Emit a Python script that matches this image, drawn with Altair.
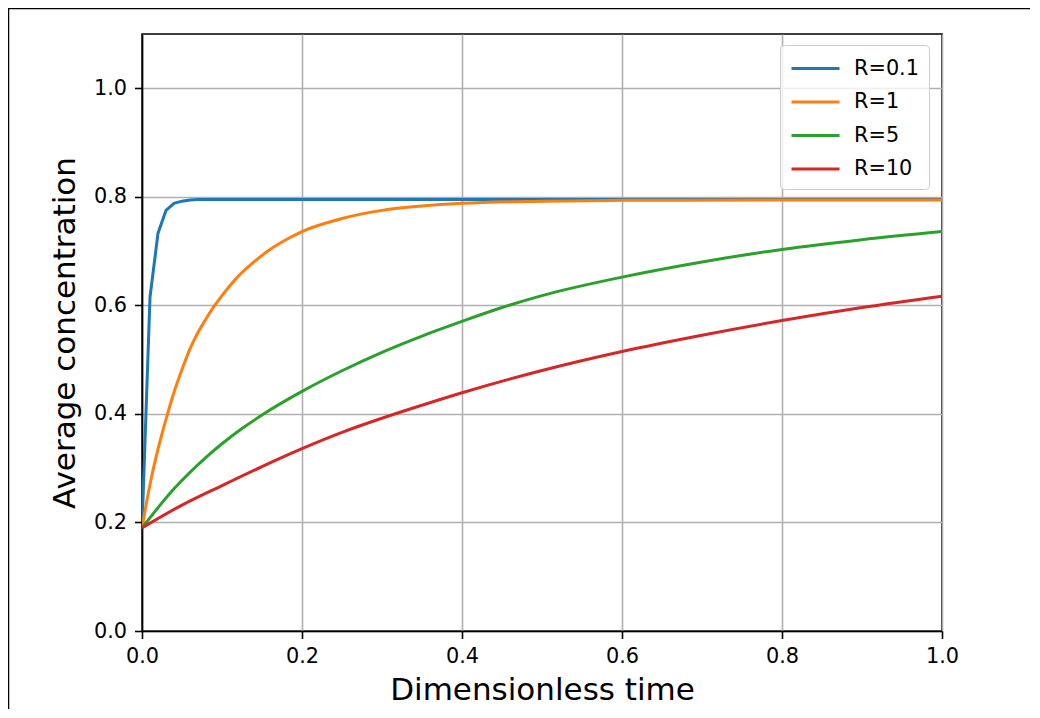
import altair as alt
import pandas as pd

# ---- data ----
series = ["R=0.1", "R=1", "R=5", "R=10"]
colors = ["#1f77b4", "#ff7f0e", "#2ca02c", "#d62728"]

t_r01 = [0, 0.01, 0.02, 0.03, 0.04, 0.05, 0.06, 0.07, 0.08, 0.1, 0.2, 0.4, 0.6, 0.8, 1.0]
c_r01 = [0.19, 0.615, 0.733, 0.775, 0.788, 0.792, 0.794, 0.795, 0.795, 0.795, 0.795, 0.795, 0.795, 0.795, 0.795]

t_r1 = [0, 0.01, 0.02, 0.03, 0.04, 0.05, 0.06, 0.07, 0.08, 0.09, 0.1, 0.12, 0.14, 0.16, 0.18, 0.2,
        0.25, 0.3, 0.35, 0.4, 0.5, 0.6, 0.8, 1.0]
c_r1 = [0.19, 0.27, 0.335, 0.39, 0.44, 0.482, 0.52, 0.55, 0.575, 0.598, 0.618, 0.653, 0.680, 0.703, 0.721, 0.736,
        0.760, 0.775, 0.783, 0.788, 0.792, 0.7935, 0.794, 0.794]

t_r5 = [0, 0.04, 0.08, 0.1, 0.125, 0.15, 0.2, 0.25, 0.3, 0.35, 0.4, 0.45, 0.5, 0.6, 0.7, 0.8, 0.9, 1.0]
c_r5 = [0.19, 0.262, 0.320, 0.345, 0.373, 0.398, 0.4415, 0.4795, 0.5135, 0.5435, 0.5705, 0.596, 0.618, 0.652, 0.680, 0.703, 0.721, 0.736]

t_r10 = [0, 0.05, 0.1, 0.15, 0.2, 0.25, 0.3, 0.35, 0.4, 0.5, 0.6, 0.7, 0.8, 0.9, 1.0]
c_r10 = [0.19, 0.232, 0.268, 0.303, 0.336, 0.366, 0.392, 0.416, 0.439, 0.480, 0.515, 0.545, 0.572, 0.596, 0.617]

x_ticks = [0.0, 0.2, 0.4, 0.6, 0.8, 1.0]
y_ticks = [0.0, 0.2, 0.4, 0.6, 0.8, 1.0]

rows = []
for name, ts, cs in zip(series, [t_r01, t_r1, t_r5, t_r10], [c_r01, c_r1, c_r5, c_r10]):
    for i, (t, c) in enumerate(zip(ts, cs)):
        rows.append({"series": name, "t": t, "c": c, "i": i})
df = pd.DataFrame(rows)

FONT = "DejaVu Sans"

x_enc = alt.X("t:Q", scale=alt.Scale(domain=[0, 1], nice=False, zero=False),
              axis=alt.Axis(values=x_ticks, format=".1f", title="Dimensionless time", labelFlush=False))
y_enc = alt.Y("c:Q", scale=alt.Scale(domain=[0, 1.1], nice=False),
              axis=alt.Axis(values=y_ticks, format=".1f", title="Average concentration", labelFlush=False))
color_enc = alt.Color("series:N", sort=series,
                      scale=alt.Scale(domain=series, range=colors),
                      legend=alt.Legend(title=None, orient="none", legendX=638, legendY=11,
                                        symbolType="M-1,0H3", symbolSize=576, symbolStrokeWidth=3,
                                        symbolFillColor="transparent",
                                        labelFontSize=20.8, labelFont=FONT, labelColor="black",
                                        rowPadding=9.5, padding=10, labelOffset=37,
                                        strokeColor="#cccccc", fillColor="rgba(255,255,255,0.8)",
                                        cornerRadius=4))

base = alt.Chart(df)
blue = base.transform_filter(alt.datum.series == "R=0.1").mark_line(
    strokeWidth=3, clip=True).encode(x=x_enc, y=y_enc, color=color_enc, order=alt.Order("i:Q"))
others = base.transform_filter(alt.datum.series != "R=0.1").mark_line(
    strokeWidth=3, clip=True, interpolate="monotone").encode(
    x=x_enc, y=y_enc, color=color_enc, order=alt.Order("i:Q"))

frame_src = alt.Data(values=[{"k": 0}])
frame_left = alt.Chart(frame_src).mark_rule(color="black", strokeWidth=1.3).encode(
    x=alt.value(-133.4), y=alt.value(-26), y2=alt.value(700))
frame_top = alt.Chart(frame_src).mark_rule(color="black", strokeWidth=1.3).encode(
    x=alt.value(-134), x2=alt.value(900), y=alt.value(-25.4))

chart = alt.layer(blue, others, frame_left, frame_top).properties(
    width=800, height=597,
    autosize=alt.AutoSizeParams(type="none"),
    padding={"left": 134, "top": 26, "right": 88, "bottom": 78},
    background="white",
).configure_view(
    stroke="black", strokeWidth=1.6
).configure_axis(
    labelFont=FONT, titleFont=FONT, labelFontSize=20.8, titleFontSize=31,
    titleFontWeight="normal", labelColor="black", titleColor="black",
    domainColor="black", domainWidth=1.6, tickColor="black", tickWidth=1.6, tickSize=7.5,
    gridColor="#b0b0b0", gridWidth=1.6, labelPadding=8,
).configure_axisX(
    titlePadding=9,
).configure_axisY(
    titlePadding=12,
)

chart.save("out.html", embed_options={"renderer": "svg", "actions": False})
